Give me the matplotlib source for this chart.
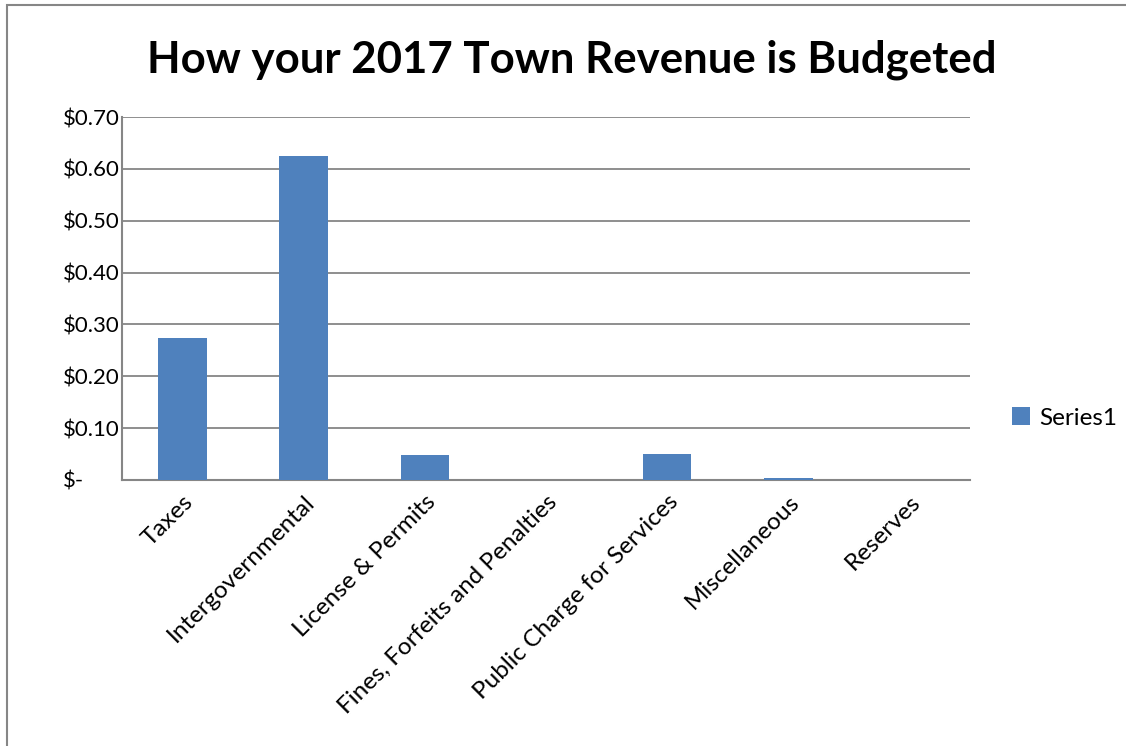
import numpy as np
import matplotlib
matplotlib.use('Agg')
import matplotlib.pyplot as plt
from matplotlib.ticker import FuncFormatter
from matplotlib.patches import Rectangle

categories = ['Taxes', 'Intergovernmental', 'License & Permits',
              'Fines, Forfeits and Penalties', 'Public Charge for Services',
              'Miscellaneous', 'Reserves']
values = [0.274, 0.625, 0.048, 0.0, 0.051, 0.004, 0.0]
series_name = 'Series1'

plt.rcParams['font.family'] = ['Lato', 'DejaVu Sans']

fig = plt.figure(figsize=(11.26, 7.46), dpi=100)
ax = fig.add_axes([122/1126, 1 - 480/746, 848/1126, 363/746])

x = np.arange(len(categories))
ax.bar(x, values, width=0.4, color='#4F81BD', label=series_name, zorder=3)

ax.set_xlim(-0.5, len(categories) - 0.5)
ax.set_ylim(0, 0.7)
ax.set_yticks(np.arange(0, 0.71, 0.1))

def money(v, pos):
    if abs(v) < 1e-9:
        return '$-'
    return '${:.2f}'.format(v)

ax.yaxis.set_major_formatter(FuncFormatter(money))
ax.tick_params(axis='y', length=0, pad=42.5, labelsize=16)
for lab in ax.get_yticklabels():
    lab.set_horizontalalignment('left')

ax.set_xticks(x)
ax.set_xticklabels(categories, rotation=45, ha='right', va='top',
                   rotation_mode='anchor', fontsize=17.5)
ax.tick_params(axis='x', length=0, pad=8)

ax.grid(axis='y', color='#868686', linewidth=1.3, zorder=0)
for s in ['top', 'right']:
    ax.spines[s].set_visible(False)
for s in ['left', 'bottom']:
    ax.spines[s].set_color('#868686')
    ax.spines[s].set_linewidth(1.5)

fig.text(572/1126, 1 - 60/746, 'How your 2017 Town Revenue is Budgeted',
         ha='center', va='center', fontsize=31.5, fontweight='bold')

fig.legend(loc='center left', bbox_to_anchor=(1012/1126, 1 - 418/746),
           frameon=False, fontsize=17.5, handlelength=0.75, handleheight=0.75,
           handletextpad=0.35, borderpad=0, borderaxespad=0)

border = Rectangle((7/1126, -0.1), 1.2, 1.1 - 5/746, transform=fig.transFigure,
                   fill=False, edgecolor='#868686', linewidth=1.5)
fig.patches.append(border)

fig.savefig('out.png', dpi=100)
